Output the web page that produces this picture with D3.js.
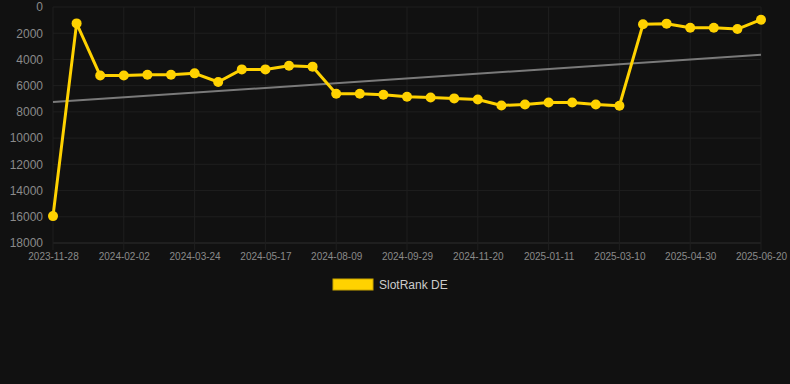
<!DOCTYPE html>
<html>
<head>
<meta charset="utf-8">
<script src="https://cdn.jsdelivr.net/npm/d3@7"></script>
<style>
  html, body { margin: 0; padding: 0; background: #111111; }
  svg { display: block; }
</style>
</head>
<body>
<div id="chart"></div>
<script>
// data
const dates = [
  "2023-11-28", "2023-12-20", "2024-01-11", "2024-02-02", "2024-02-19", "2024-03-07",
  "2024-03-24", "2024-04-11", "2024-04-29", "2024-05-17", "2024-06-14", "2024-07-12",
  "2024-08-09", "2024-08-26", "2024-09-12", "2024-09-29", "2024-10-16", "2024-11-03",
  "2024-11-20", "2024-12-07", "2024-12-24", "2025-01-11", "2025-01-30", "2025-02-19",
  "2025-03-10", "2025-03-27", "2025-04-13", "2025-04-30", "2025-05-17", "2025-06-03",
  "2025-06-20"
];
const rankDE = [
  15950, 1250, 5230, 5230, 5170, 5170, 5060, 5720, 4760, 4760, 4480, 4550,
  6620, 6620, 6690, 6840, 6900, 6970, 7050, 7510, 7430, 7280, 7280, 7430,
  7530, 1320, 1270, 1580, 1580, 1680, 970
];
// trend line start / end values
const trendDates = ["2023-11-28", "2025-06-20"];
const trendValues = [7250, 3650];
const yTicks = [0, 2000, 4000, 6000, 8000, 10000, 12000, 14000, 16000, 18000];
const seriesName = "SlotRank DE";

const width = 790, height = 384;
const plotLeft = 53, plotRight = 761, plotTop = 7, plotBottom = 243;

const svg = d3.select("#chart").append("svg")
  .attr("width", width)
  .attr("height", height);

svg.append("rect").attr("width", width).attr("height", height).attr("fill", "#111111");

const x = d3.scalePoint().domain(dates).range([plotLeft, plotRight]);
const y = d3.scaleLinear().domain([0, 18000]).range([plotTop, plotBottom]);

const shownDates = dates.filter((d, i) => i % 3 === 0);

// grid
svg.append("g")
  .selectAll("line")
  .data(yTicks)
  .enter()
  .append("line")
  .attr("x1", plotLeft).attr("x2", plotRight)
  .attr("y1", d => y(d)).attr("y2", d => y(d))
  .attr("stroke", d => d === 18000 ? "#2e2e2e" : "#1f1f1f")
  .attr("stroke-width", 1);

svg.append("g")
  .selectAll("line")
  .data(shownDates)
  .enter()
  .append("line")
  .attr("x1", d => x(d)).attr("x2", d => x(d))
  .attr("y1", plotTop).attr("y2", plotBottom + 7)
  .attr("stroke", "#1f1f1f")
  .attr("stroke-width", 1);

// y axis labels
const yAxis = svg.append("g")
  .attr("transform", "translate(" + (plotLeft - 10) + ",0)")
  .call(d3.axisLeft(y).tickValues(yTicks).tickSize(0).tickPadding(0).tickFormat(d3.format("d")));
yAxis.select(".domain").remove();
yAxis.selectAll("text")
  .attr("fill", "#8a8a8a")
  .attr("font-family", "Liberation Sans, Arial, Helvetica, sans-serif")
  .attr("font-size", 12);

// x axis labels
const xAxis = svg.append("g")
  .attr("transform", "translate(0," + (plotBottom + 10) + ")")
  .call(d3.axisBottom(x).tickValues(shownDates).tickSize(0).tickPadding(0));
xAxis.select(".domain").remove();
xAxis.selectAll("text")
  .attr("fill", "#8a8a8a")
  .attr("font-family", "Liberation Sans, Arial, Helvetica, sans-serif")
  .attr("font-size", 10);

// trend line
svg.append("path")
  .datum(trendDates.map((d, i) => [d, trendValues[i]]))
  .attr("fill", "none")
  .attr("stroke", "#7a7a7a")
  .attr("stroke-width", 2)
  .attr("d", d3.line().x(d => x(d[0])).y(d => y(d[1])));

// main series
const series = dates.map((d, i) => [d, rankDE[i]]);
svg.append("path")
  .datum(series)
  .attr("fill", "none")
  .attr("stroke", "#ffd200")
  .attr("stroke-width", 3)
  .attr("stroke-linejoin", "round")
  .attr("d", d3.line().x(d => x(d[0])).y(d => y(d[1])));

svg.append("g")
  .selectAll("circle")
  .data(series)
  .enter()
  .append("circle")
  .attr("cx", d => x(d[0]))
  .attr("cy", d => y(d[1]))
  .attr("r", 5)
  .attr("fill", "#ffd200");

// legend
const legend = svg.append("g").attr("transform", "translate(333,279)");
legend.append("rect")
  .attr("width", 40).attr("height", 11)
  .attr("fill", "#ffd200")
  .attr("stroke", "#c9a500")
  .attr("stroke-width", 1);
legend.append("text")
  .attr("x", 46).attr("y", 10)
  .attr("fill", "#cccccc")
  .attr("font-family", "Liberation Sans, Arial, Helvetica, sans-serif")
  .attr("font-size", 12)
  .text(seriesName);
</script>
</body>
</html>
